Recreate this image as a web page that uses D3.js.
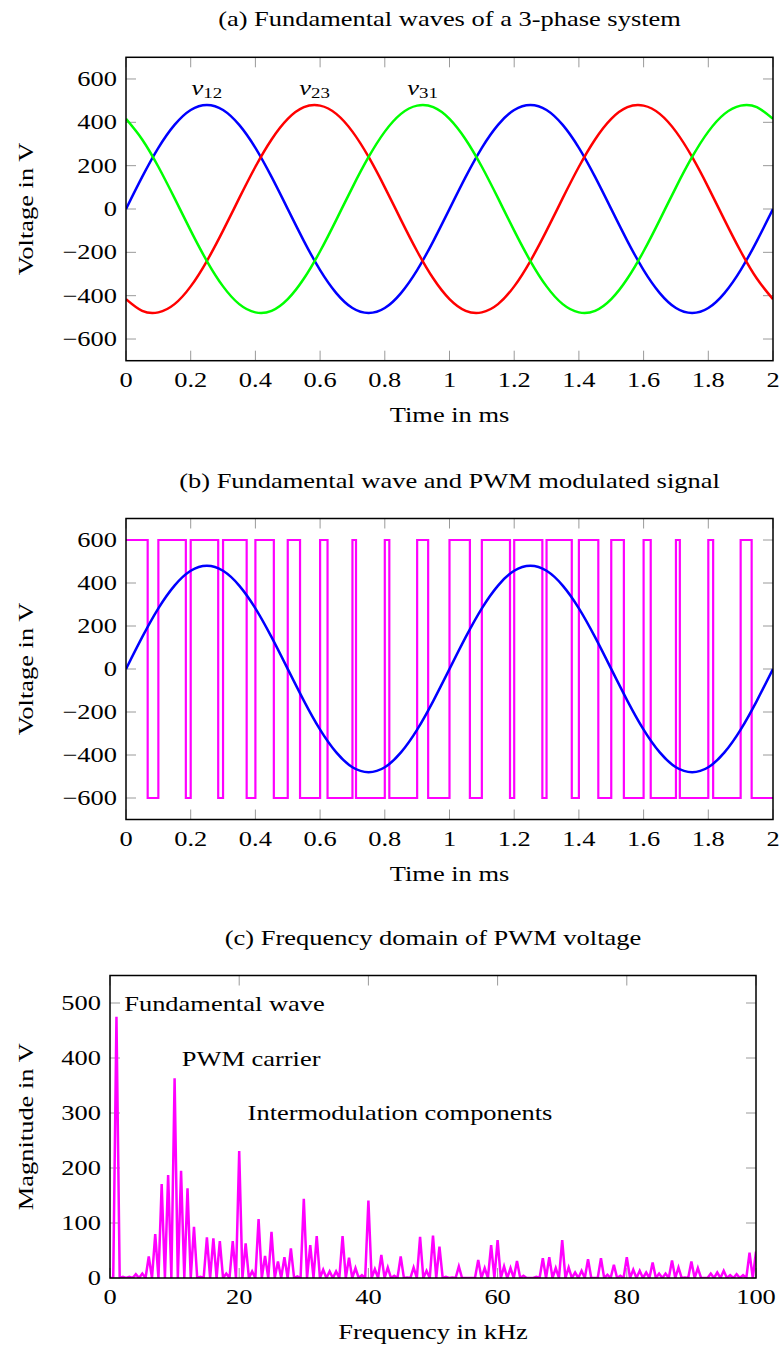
<!DOCTYPE html>
<html>
<head>
<meta charset="utf-8">
<script src="https://cdn.jsdelivr.net/npm/d3@7"></script>
<style>
  html, body { margin: 0; padding: 0; background: #fff; }
  svg text { font-family: "Liberation Serif", "Times New Roman", serif; fill: #000; }
</style>
</head>
<body>
<svg id="chart" width="780" height="1351"></svg>
<script>
// ---------------- DATA ----------------
const timeMs = [0,0.05,0.1,0.15,0.2,0.25,0.3,0.35,0.4,0.45,0.5,0.55,0.6,0.65,0.7,0.75,0.8,0.85,0.9,0.95,
  1,1.05,1.1,1.15,1.2,1.25,1.3,1.35,1.4,1.45,1.5,1.55,1.6,1.65,1.7,1.75,1.8,1.85,1.9,1.95,2];
const v12 = [0,148,282,388,457,480,457,388,282,148,0,-148,-282,-388,-457,-480,-457,-388,-282,-148,
  0,148,282,388,457,480,457,388,282,148,0,-148,-282,-388,-457,-480,-457,-388,-282,-148,0];
const v23 = [-416,-470,-477,-439,-357,-240,-100,50,195,321,416,470,477,439,357,240,100,-50,-195,-321,
  -416,-470,-477,-439,-357,-240,-100,50,195,321,416,470,477,439,357,240,100,-50,-195,-321,-416];
const v31 = [416,321,195,50,-100,-240,-357,-439,-477,-470,-416,-321,-195,-50,100,240,357,439,477,470,
  416,321,195,50,-100,-240,-357,-439,-477,-470,-416,-321,-195,-50,100,240,357,439,477,470,416];
const phaseLabels = [
  {name: "v", sub: "12", t: 0.25, peak: 480},
  {name: "v", sub: "23", t: 0.583, peak: 480},
  {name: "v", sub: "31", t: 0.917, peak: 480}
];
// PWM: intervals (ms) where the signal is at +600 V, otherwise -600 V
const pwmHigh = [[0,0.067],[0.1,0.185],[0.2,0.285],[0.3,0.373],[0.4,0.457],[0.5,0.538],[0.6,0.623],
  [0.7,0.711],[0.8,0.814],[0.9,0.934],[1.0,1.063],[1.1,1.187],[1.2,1.287],[1.3,1.378],[1.4,1.460],
  [1.5,1.539],[1.6,1.622],[1.7,1.712],[1.8,1.815],[1.9,1.934]];
const pwmLevels = [600, -600];
const pwmEnd = 2;
// spectrum, 0.5 kHz bins from 0 to 100 kHz
const spectrumBinKHz = 0.5;
const spectrumMag = [
  0,0, 475,0, 2,0, 2,0, 7,0, 8,0, 39,0, 80,0, 171,0, 187,0,
  363,0, 195,0, 163,0, 93,0, 2,0, 74,0, 72,0, 67,0, 8,0, 67,0,
  231,0, 63,0, 12,0, 107,0, 40,0, 84,0, 30,0, 38,0, 54,0, 3,0,
  144,0, 60,0, 76,0, 15,0, 12,0, 12,0, 76,0, 37,0, 18,0, 5,0,
  141,0, 16,0, 42,0, 19,0, 4,0, 39,0, 1,0, 19,0, 75,0, 13,0,
  77,0, 57,0, 2,0, 1,0, 21,0, 0,0, 0,0, 33,0, 18,0, 60,0,
  69,0, 21,0, 18,0, 31,0, 4,0, 0,0, 2,0, 36,0, 38,0, 18,0,
  69,0, 19,0, 10,0, 13,0, 34,0, 0,0, 36,0, 6,0, 24,0, 4,0,
  38,0, 15,0, 13,0, 10,0, 28,0, 8,0, 8,0, 32,0, 19,0, 1,0,
  30,0, 18,0, 0,0, 8,0, 10,0, 13,0, 5,0, 7,0, 5,0, 46,0,
  48];
const spectrumNotes = [
  {text: "Fundamental wave", f: 2.2, m: 485},
  {text: "PWM carrier", f: 11.1, m: 385},
  {text: "Intermodulation components", f: 21.3, m: 287}
];
const timeTicks = [0,0.2,0.4,0.6,0.8,1,1.2,1.4,1.6,1.8,2];
const voltTicks = [-600,-400,-200,0,200,400,600];
const freqTicks = [0,20,40,60,80,100];
const magTicks = [0,100,200,300,400,500];
const titles = ["(a) Fundamental waves of a 3-phase system",
                "(b) Fundamental wave and PWM modulated signal",
                "(c) Frequency domain of PWM voltage"];

// ---------------- DRAWING ----------------
const SX = 1.26;      // glyph stretch along the text direction
const FS = 21;
const svg = d3.select("#chart");
const fmtNum = d => (d < 0 ? "\u2212" + Math.abs(d) : String(d));

function txt(g, x, y, s, anchor, size) {
  return g.append("text")
    .attr("transform", `translate(${x},${y}) scale(${SX},1)`)
    .attr("text-anchor", anchor || "middle")
    .attr("font-size", size || FS)
    .text(s);
}

function panel(cfg) {
  const g = svg.append("g");
  const x = d3.scaleLinear().domain(cfg.xDomain).range([cfg.left, cfg.right]);
  const y = d3.scaleLinear().domain(cfg.yDomain).range([cfg.bottom, cfg.top]);
  const id = "clip" + cfg.idx;
  svg.append("clipPath").attr("id", id).append("rect")
    .attr("x", cfg.left).attr("y", cfg.top)
    .attr("width", cfg.right - cfg.left).attr("height", cfg.bottom - cfg.top);
  const TL = 10;
  const tickG = g.append("g").attr("stroke", "#9a9a9a").attr("stroke-width", 1);
  cfg.xTicks.forEach(t => {
    const px = x(t);
    tickG.append("line").attr("x1", px).attr("x2", px).attr("y1", cfg.bottom).attr("y2", cfg.bottom - TL);
    tickG.append("line").attr("x1", px).attr("x2", px).attr("y1", cfg.top).attr("y2", cfg.top + TL);
    txt(g, px, cfg.bottom + 26, cfg.xFmt(t));
  });
  cfg.yTicks.forEach(t => {
    const py = y(t);
    tickG.append("line").attr("x1", cfg.left).attr("x2", cfg.left + TL).attr("y1", py).attr("y2", py);
    tickG.append("line").attr("x1", cfg.right).attr("x2", cfg.right - TL).attr("y1", py).attr("y2", py);
    txt(g, cfg.left - 9, py + 7, fmtNum(t), "end");
  });
  txt(g, (cfg.left + cfg.right) / 2, cfg.bottom + 61, cfg.xLabel);
  txt(g, (cfg.left + cfg.right) / 2, cfg.top - 31, cfg.title);
  g.append("text")
    .attr("transform", `translate(33,${(cfg.top + cfg.bottom) / 2}) rotate(-90) scale(${SX},1)`)
    .attr("text-anchor", "middle").attr("font-size", FS).text(cfg.yLabel);
  const plot = g.append("g").attr("clip-path", `url(#${id})`);
  cfg.draw(plot, x, y, g);
  g.append("rect").attr("x", cfg.left).attr("y", cfg.top)
    .attr("width", cfg.right - cfg.left).attr("height", cfg.bottom - cfg.top)
    .attr("fill", "none").attr("stroke", "#000").attr("stroke-width", 1.5);
}

const timeFmt = d => String(d);

// (a)
panel({
  idx: 0, left: 126, right: 773, top: 57.3, bottom: 360.7,
  xDomain: [0, 2], yDomain: [-700, 700], xTicks: timeTicks, yTicks: voltTicks,
  xFmt: timeFmt, xLabel: "Time in ms", yLabel: "Voltage in V", title: titles[0],
  draw: (p, x, y, g) => {
    const line = d3.line().x((d, i) => x(timeMs[i])).y(d => y(d)).curve(d3.curveNatural);
    [[v12, "#0000ff"], [v23, "#ff0000"], [v31, "#00ff00"]].forEach(([s, c]) => {
      p.append("path").attr("d", line(s)).attr("fill", "none").attr("stroke", c).attr("stroke-width", 2.5);
    });
    phaseLabels.forEach(l => {
      const t = g.append("text")
        .attr("transform", `translate(${x(l.t)},${y(l.peak) - 10}) scale(${SX},1)`)
        .attr("text-anchor", "middle").attr("font-size", FS);
      t.append("tspan").attr("font-style", "italic").text(l.name);
      t.append("tspan").attr("font-size", 15).attr("dy", 3).text(l.sub);
    });
  }
});

// (b)
panel({
  idx: 1, left: 126, right: 773, top: 518.5, bottom: 819.5,
  xDomain: [0, 2], yDomain: [-700, 700], xTicks: timeTicks, yTicks: voltTicks,
  xFmt: timeFmt, xLabel: "Time in ms", yLabel: "Voltage in V", title: titles[1],
  draw: (p, x, y) => {
    const pts = [];
    pwmHigh.forEach(([a, b], i) => {
      if (i > 0) pts.push([a, pwmLevels[1]]);
      pts.push([a, pwmLevels[0]], [b, pwmLevels[0]], [b, pwmLevels[1]]);
    });
    pts.push([pwmEnd, pwmLevels[1]]);
    const sl = d3.line().x(d => x(d[0])).y(d => y(d[1]));
    p.append("path").attr("d", sl(pts)).attr("fill", "none").attr("stroke", "#ff00ff").attr("stroke-width", 2.2);
    const line = d3.line().x((d, i) => x(timeMs[i])).y(d => y(d)).curve(d3.curveNatural);
    p.append("path").attr("d", line(v12)).attr("fill", "none").attr("stroke", "#0000ff").attr("stroke-width", 2.5);
  }
});

// (c)
panel({
  idx: 2, left: 110, right: 756, top: 975.5, bottom: 1278,
  xDomain: [0, 100], yDomain: [0, 550], xTicks: freqTicks, yTicks: magTicks,
  xFmt: d => String(d), xLabel: "Frequency in kHz", yLabel: "Magnitude in V", title: titles[2],
  draw: (p, x, y, g) => {
    const line = d3.line().x((d, i) => x(i * spectrumBinKHz)).y(d => y(d));
    p.append("path").attr("d", line(spectrumMag)).attr("fill", "none")
      .attr("stroke", "#ff00ff").attr("stroke-width", 2.5).attr("stroke-linejoin", "miter");
    spectrumNotes.forEach(n => txt(g, x(n.f), y(n.m), n.text, "start"));
  }
});
</script>
</body>
</html>
